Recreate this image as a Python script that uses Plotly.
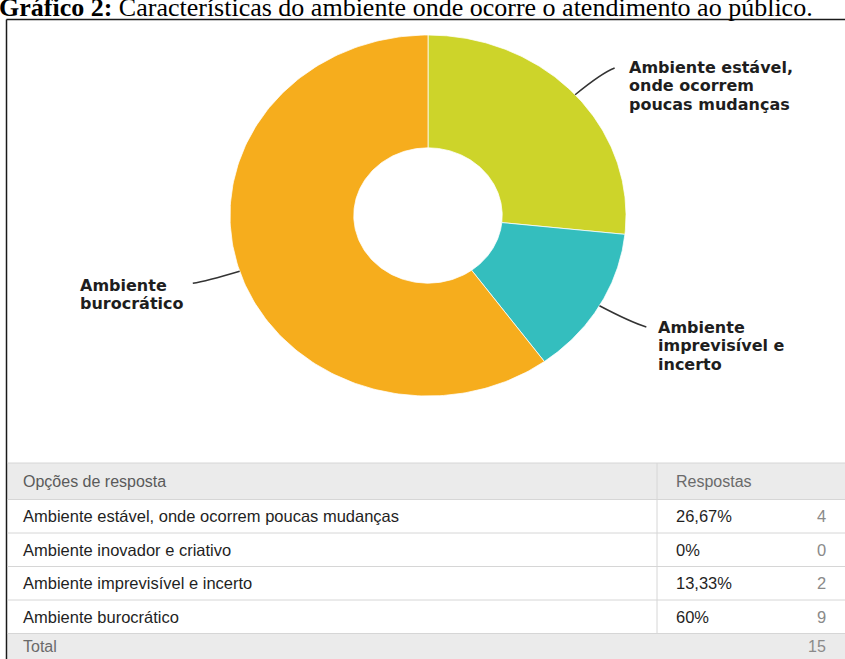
import numpy as np
import plotly.graph_objects as go

# ---- data -------------------------------------------------------------
categories = [
    "Ambiente estável, onde ocorrem poucas mudanças",
    "Ambiente inovador e criativo",
    "Ambiente imprevisível e incerto",
    "Ambiente burocrático",
]
counts = [4, 0, 2, 9]
percent_labels = ["26,67%", "0%", "13,33%", "60%"]
donut_labels = [
    "Ambiente estável,\nonde ocorrem\npoucas mudanças",
    "Ambiente inovador\ne criativo",
    "Ambiente\nimprevisível e\nincerto",
    "Ambiente\nburocrático",
]
slice_colors = ["#CDD42A", "#8E6FB5", "#34BEBE", "#F6AD1D"]
header_labels = ["Opções de resposta", "Respostas"]
total_label = "Total"
title_bold = "Gráfico 2:"
title_rest = " Características do ambiente onde ocorre o atendimento ao público."

# ---- canvas geometry (pixels) -----------------------------------------
W, H = 845, 659
CX, CY = 428.0, 215.5      # donut centre
RX, RY = 198.0, 180.5      # outer radii (donut is drawn slightly wide)
HOLE = 0.375


def paper(px, py):
    return px / W, 1 - py / H


def px_offset(dx, dy):
    return dx / RX, -dy / RY


# label placement: left x, first line centre y, leader end offset from bend
label_place = {
    0: dict(x=628, y=67, end=(13, -5)),
    2: dict(x=657, y=327, end=(16, 5)),
    3: dict(x=79, y=285, end=(-13, 2)),
}
LINE_STEP = 18.5

fig = go.Figure()

# ---- donut slices -----------------------------------------------------
total = sum(counts)
cum = np.concatenate([[0], np.cumsum(counts)]) / total
shapes = []
annotations = []
for i, cat in enumerate(categories):
    if counts[i] == 0:
        continue
    t0, t1 = 2 * np.pi * cum[i], 2 * np.pi * cum[i + 1]
    ts = np.linspace(t0, t1, 200)
    xo, yo = np.sin(ts), np.cos(ts)
    xi, yi = HOLE * np.sin(ts[::-1]), HOLE * np.cos(ts[::-1])
    xs = np.concatenate([xo, xi, xo[:1]])
    ys = np.concatenate([yo, yi, yo[:1]])
    fig.add_trace(go.Scatter(
        x=xs, y=ys, mode="lines", fill="toself",
        fillcolor=slice_colors[i],
        line=dict(color="rgba(255,255,255,0.75)", width=1),
        name=cat, text=f"{cat}: {percent_labels[i]}", hoverinfo="text",
        showlegend=False,
    ))

    # curved leader line from the slice midpoint
    tm = (t0 + t1) / 2
    sx, sy = np.sin(tm), np.cos(tm)
    bx, by = 1.18 * sx, 1.18 * sy
    place = label_place[i]
    ox, oy = px_offset(*place["end"])
    ex, ey = bx + ox, by + oy
    shapes.append(dict(
        type="path", xref="x", yref="y",
        path=f"M {sx:.4f},{sy:.4f} Q {bx:.4f},{by:.4f} {ex:.4f},{ey:.4f}",
        line=dict(color="#333333", width=1.5),
    ))

    for k, line in enumerate(donut_labels[i].split("\n")):
        ax, ay = paper(place["x"] - 1, place["y"] + k * LINE_STEP)
        annotations.append(dict(
            x=ax, y=ay, xref="paper", yref="paper", text=line,
            showarrow=False, xanchor="left", yanchor="middle",
            font=dict(family="DejaVu Sans", size=16, color="#1e1e1e",
                      weight="bold"),
        ))

# ---- frame ------------------------------------------------------------
BOX_L, BOX_T = 6.5, 19.5
x0, y0 = paper(BOX_L, BOX_T)
shapes.append(dict(type="line", xref="paper", yref="paper",
                   x0=x0, y0=y0, x1=1.0, y1=y0,
                   line=dict(color="#1a1a1a", width=1.5)))
shapes.append(dict(type="line", xref="paper", yref="paper",
                   x0=x0, y0=y0, x1=x0, y1=0.0,
                   line=dict(color="#1a1a1a", width=1.5)))

# ---- title ------------------------------------------------------------
tx, ty = paper(815, 7.5)
annotations.append(dict(
    x=tx, y=ty, xref="paper", yref="paper", showarrow=False,
    xanchor="right", yanchor="middle",
    text=f"<b>{title_bold}</b>{title_rest}",
    font=dict(family="Liberation Serif", size=26, color="#000000"),
))

# ---- response table ---------------------------------------------------
GRID = "#D6D6D6"
BAND = "#EBEBEB"
row_edges = [463, 499.5, 533, 566.5, 600, 633.5, 659]
col_div = 657
left_edge = 7.5

# shaded header and total bands
for top, bot in [(row_edges[0], row_edges[1]), (row_edges[-2], row_edges[-1])]:
    xa, ya = paper(left_edge, top)
    xb, yb = paper(W, bot)
    shapes.append(dict(type="rect", xref="paper", yref="paper",
                       x0=xa, y0=ya, x1=xb, y1=yb,
                       fillcolor=BAND, line=dict(width=0), layer="below"))
# horizontal rules
for yy in row_edges[:-1]:
    xa, ya = paper(left_edge, yy)
    shapes.append(dict(type="line", xref="paper", yref="paper",
                       x0=xa, y0=ya, x1=1.0, y1=ya,
                       line=dict(color=GRID, width=1)))
# column divider
xa, ya = paper(col_div, row_edges[0])
_, yb = paper(col_div, row_edges[-2])
shapes.append(dict(type="line", xref="paper", yref="paper",
                   x0=xa, y0=ya, x1=xa, y1=yb,
                   line=dict(color=GRID, width=1)))

TXT_X, PCT_X, CNT_X = 22, 675, 827
FONT = "Liberation Sans"


def cell(px, py, text, color, size=16.5, anchor="left", weight="normal"):
    ax, ay = paper(px, py)
    annotations.append(dict(
        x=ax, y=ay, xref="paper", yref="paper", text=text,
        showarrow=False, xanchor=anchor, yanchor="middle",
        font=dict(family=FONT, size=size, color=color, weight=weight),
    ))


def mid(a, b):
    return (row_edges[a] + row_edges[b]) / 2


cell(TXT_X - 1, mid(0, 1), header_labels[0], "#5a5a5a", size=16)
cell(PCT_X - 1, mid(0, 1), header_labels[1], "#6a6a6a", size=16)
for r, cat in enumerate(categories):
    yc = mid(r + 1, r + 2)
    cell(TXT_X - 1, yc, cat, "#1f1f1f")
    cell(PCT_X - 1, yc, percent_labels[r], "#1f1f1f")
    cell(CNT_X + 1, yc, str(counts[r]), "#8a8a8a", anchor="right")
cell(TXT_X - 1, mid(5, 6), total_label, "#6a6a6a", size=16)
cell(CNT_X + 1, mid(5, 6), str(total), "#8a8a8a", size=16, anchor="right")

# ---- layout -----------------------------------------------------------
fig.update_layout(
    width=W, height=H, autosize=False,
    margin=dict(l=0, r=0, t=0, b=0, pad=0),
    paper_bgcolor="white", plot_bgcolor="white",
    xaxis=dict(range=[(0 - CX) / RX, (W - CX) / RX], visible=False,
               fixedrange=True),
    yaxis=dict(range=[(CY - H) / RY, CY / RY], visible=False,
               fixedrange=True),
    shapes=shapes, annotations=annotations, hovermode="closest",
)

fig.write_html("out.html")
